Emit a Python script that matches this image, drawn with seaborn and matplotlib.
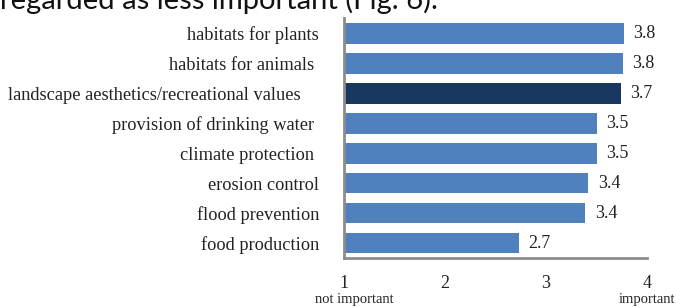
import matplotlib
matplotlib.use("Agg")
import matplotlib.pyplot as plt
import seaborn as sns
import numpy as np

# data
categories = ["habitats for plants", "habitats for animals ",
              "landscape aesthetics/recreational values    ",
              "provision of drinking water ", "climate protection ",
              "erosion control", "flood prevention", "food production"]
values = [3.77, 3.76, 3.74, 3.50, 3.50, 3.42, 3.39, 2.73]
bar_colors = ["#4F81BD", "#4F81BD", "#17375E", "#4F81BD",
              "#4F81BD", "#4F81BD", "#4F81BD", "#4F81BD"]
xticks = [1, 2, 3, 4]

sns.set_style("white")
plt.rcParams['font.family'] = ['Liberation Serif', 'DejaVu Serif']

fig = plt.figure(figsize=(6.76, 3.07), dpi=100)
ax = fig.add_axes([344/676, 1-258/307, (647-344)/676, 240/307])

sns.barplot(x=values, y=categories, hue=categories, palette=bar_colors,
            orient="h", legend=False, width=0.7, saturation=1, ax=ax)

# bars start at 1 (scale 1..4)
for cont in ax.containers:
    for p in cont:
        w = p.get_width()
        p.set_x(1)
        p.set_width(w - 1)
        p.set_edgecolor("none")
    ax.bar_label(cont, labels=[f"{p.get_width()+1:.1f}" for p in cont],
                 padding=7, fontsize=13, color="#222222")

ax.set_xlim(1, 4)
ax.set_ylim(7.5, -0.5)
ax.set_xticks(xticks)
ax.set_xticklabels([str(t) for t in xticks], fontsize=13)
ax.set_xlabel("")
ax.set_ylabel("")

for s in ["top", "right"]:
    ax.spines[s].set_visible(False)
for s in ["left", "bottom"]:
    ax.spines[s].set_color("#8c8c8c")
    ax.spines[s].set_linewidth(2)

ax.tick_params(axis="y", which="major", length=0, pad=18, labelsize=13.2,
               labelcolor="#222222")
ax.set_yticks(np.arange(-0.5, 8, 1), minor=True)
ax.tick_params(axis="y", which="minor", length=5, width=2, color="#8c8c8c",
               direction="out")
ax.tick_params(axis="x", length=6, width=2, color="#8c8c8c", pad=6,
               labelcolor="#222222")

ax.text(1.1, -41/240, "not important", transform=ax.get_xaxis_transform(),
        ha="center", va="center", fontsize=10.5, color="#222222")
ax.text(4, -41/240, "important", transform=ax.get_xaxis_transform(),
        ha="center", va="center", fontsize=10.5, color="#222222")

fig.text(0.0, 1-9/307, "regarded as less important (Fig. 6).",
         fontsize=21, family=["Lato", "DejaVu Sans"], va="baseline",
         ha="left", color="#111111")

fig.savefig("out.png", dpi=100)
